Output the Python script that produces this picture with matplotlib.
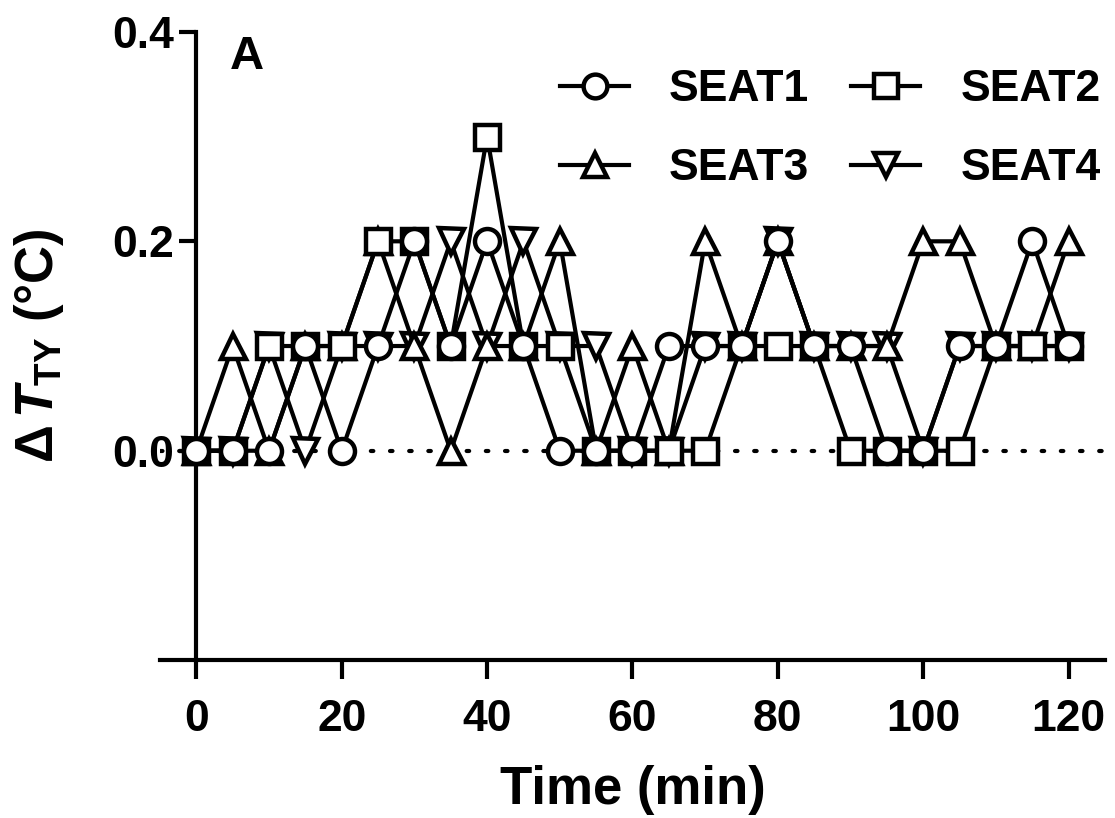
import matplotlib
matplotlib.use("Agg")
import matplotlib.pyplot as plt

plt.rcParams['font.family'] = ['Liberation Sans', 'DejaVu Sans']
plt.rcParams['font.weight'] = 'bold'
plt.rcParams['mathtext.fontset'] = 'custom'
plt.rcParams['mathtext.rm'] = 'Liberation Sans:bold'
plt.rcParams['mathtext.it'] = 'Liberation Sans:italic:bold'
plt.rcParams['mathtext.bf'] = 'Liberation Sans:bold'
plt.rcParams['mathtext.sf'] = 'Liberation Sans'

# time points (min)
time = [0, 5, 10, 15, 20, 25, 30, 35, 40, 45, 50, 55, 60,
        65, 70, 75, 80, 85, 90, 95, 100, 105, 110, 115, 120]

# temperature difference (°C) per seat
seat1 = [0, 0, 0, 0.1, 0, 0.1, 0.2, 0.1, 0.2, 0.1, 0, 0, 0,
         0.1, 0.1, 0.1, 0.2, 0.1, 0.1, 0, 0, 0.1, 0.1, 0.2, 0.1]
seat2 = [0, 0, 0.1, 0.1, 0.1, 0.2, 0.2, 0.1, 0.3, 0.1, 0.1, 0, 0,
         0, 0, 0.1, 0.1, 0.1, 0, 0, 0, 0, 0.1, 0.1, 0.1]
seat3 = [0, 0.1, 0, 0.1, 0.1, 0.2, 0.1, 0, 0.1, 0.1, 0.2, 0, 0.1,
         0, 0.2, 0.1, 0.2, 0.1, 0.1, 0.1, 0.2, 0.2, 0.1, 0.1, 0.2]
seat4 = [0, 0, 0.1, 0, 0.1, 0.1, 0.1, 0.2, 0.1, 0.2, 0.1, 0.1, 0,
         0, 0.1, 0.1, 0.2, 0.1, 0.1, 0.1, 0, 0.1, 0.1, 0.1, 0.1]

labels = ["SEAT1", "SEAT2", "SEAT3", "SEAT4"]
markers = ["o", "s", "^", "v"]

fig = plt.figure(figsize=(11.15, 8.18), dpi=100)
ax = fig.add_axes([0.1435, 0.193, 0.8475, 0.768])

ax.axhline(0, color="black", linestyle=(0, (0.6, 4)), linewidth=3, zorder=1,
           dash_capstyle="round")

series = [seat1, seat2, seat3, seat4]
handles = []
for i in range(3, -1, -1):
    h, = ax.plot(time, series[i], color="black", linewidth=3,
                 marker=markers[i], markersize=18, markeredgewidth=3.2,
                 markerfacecolor="white", markeredgecolor="black",
                 label=labels[i], zorder=2 + (4 - i))
    handles.insert(0, h)

ax.set_xlim(-5, 125)
ax.set_ylim(-0.2, 0.4)
ax.set_xticks([0, 20, 40, 60, 80, 100, 120])
ax.set_yticks([0.0, 0.2, 0.4])
ax.set_yticklabels(["0.0", "0.2", "0.4"])

ax.spines['top'].set_visible(False)
ax.spines['right'].set_visible(False)
ax.spines['left'].set_position(('data', 0))
for s in ['left', 'bottom']:
    ax.spines[s].set_linewidth(3)

ax.tick_params(axis='x', length=14, width=3, labelsize=32, pad=14)
ax.tick_params(axis='y', length=12, width=3, labelsize=32, pad=4)

ax.set_xlabel("Time (min)", fontsize=38, fontweight='bold', labelpad=18)
ax.set_ylabel(r"$\mathsf{\Delta}\,\mathit{T}_{\mathrm{TY}}$ (°C)", fontsize=38,
              fontweight='bold')
ax.yaxis.set_label_coords(-0.1, 0.5)

ax.text(0.074, 0.995, "A", transform=ax.transAxes, fontsize=34,
        fontweight='bold', va='top', ha='left')

order = [handles[0], handles[2], handles[1], handles[3]]
leg = fig.legend(order, [h.get_label() for h in order], ncol=2,
                 loc='upper right', bbox_to_anchor=(1.003, 0.937),
                 frameon=False, fontsize=32, handlelength=1.55,
                 handletextpad=0.9, columnspacing=0.95, labelspacing=0.85,
                 borderaxespad=0, markerscale=0.95)

fig.savefig("out.png", dpi=100)
